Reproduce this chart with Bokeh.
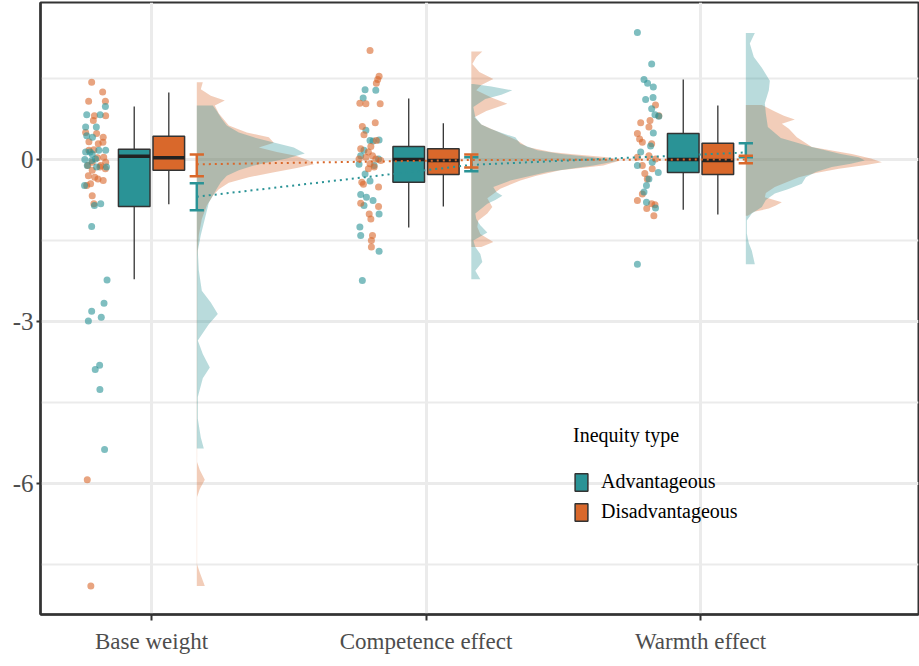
from bokeh.plotting import figure
from bokeh.models import Range1d, FixedTicker, Legend, LegendItem
from bokeh.embed import file_html
from bokeh.resources import INLINE

# ---------------- data ----------------
categories = ["Base weight", "Competence effect", "Warmth effect"]
cat_pos = [1, 2, 3]

# box stats: [lower whisker, q1, median, q3, upper whisker]
adv_box = [[-2.22, -0.87, 0.06, 0.19, 0.98],
           [-1.26, -0.42, 0.00, 0.24, 1.13],
           [-0.93, -0.24, 0.00, 0.48, 1.48]]
dis_box = [[-0.83, -0.20, 0.03, 0.43, 1.24],
           [-0.87, -0.28, -0.02, 0.20, 0.67],
           [-1.02, -0.28, -0.02, 0.30, 1.00]]

# means with confidence intervals
adv_mean = [-0.69, -0.10, 0.13]
adv_lo = [-0.94, -0.22, 0.04]
adv_hi = [-0.44, 0.04, 0.30]
dis_mean = [-0.09, -0.01, 0.00]
dis_lo = [-0.31, -0.15, -0.07]
dis_hi = [0.09, 0.09, 0.07]

# raw points (value, jitter)
bw_adv_y = [0.98, 0.83, 0.83, 0.6, 0.6, 0.44, 0.41, 0.17, 0.17, 0.14, 0.14, 0.1, 0.0, 0.01, -0.14, -0.11,
            -0.14, -0.48, -0.85, -0.82, -1.24, -0.02, -2.23, -2.66, -2.81, -2.99, -2.92, -3.81, -3.89,
            -4.26, -5.37]
bw_adv_j = [0.032, -0.036, 0.013, -0.04, -0.001, -0.036, -0.015, 0.008, 0.033, -0.04, -0.024, -0.016,
            -0.043, -0.004, 0.036, -0.034, 0.0, -0.044, -0.008, 0.015, -0.018, -0.018, 0.038, 0.027,
            -0.018, -0.03, 0.017, 0.011, -0.005, 0.012, 0.029]
bw_dis_y = [1.43, 1.25, 1.08, 1.08, 0.81, 0.81, 0.72, 0.5, 0.48, 0.41, 0.33, 0.29, 0.32, 0.17, 0.18, 0.03,
            -0.05, 0.04, -0.11, -0.14, -0.17, -0.2, -0.3, -0.33, -0.36, -0.39, -0.48, -0.45, -0.67, -0.82,
            -0.11, -0.05, -5.93, -7.9]
bw_dis_j = [-0.018, 0.022, -0.029, 0.032, 0.033, -0.008, -0.012, -0.04, 0.0, 0.024, -0.028, 0.006, 0.023,
            -0.028, -0.01, 0.003, -0.016, 0.026, -0.032, 0.012, 0.032, -0.016, -0.03, -0.007, 0.005, 0.024,
            -0.036, -0.022, -0.016, -0.01, 0.015, 0.033, -0.034, -0.021]
ce_adv_y = [1.29, 1.28, 1.14, 0.54, 0.35, 0.36, 0.34, 0.17, 0.07, 0.01, -0.09, -0.27, -0.4, -0.65, -0.7,
            -0.85, -0.76, -1.01, -1.25, -1.41, -1.7, -2.24, -0.11]
ce_adv_j = [-0.022, 0.017, -0.029, -0.019, -0.004, 0.029, 0.007, -0.026, -0.038, 0.027, -0.044, -0.022,
            -0.004, -0.038, -0.017, -0.026, 0.007, 0.029, -0.041, -0.038, 0.029, -0.032, 0.011]
ce_dis_y = [2.02, 1.54, 1.48, 1.41, 1.04, 1.03, 1.03, 0.68, 0.61, 0.46, 0.35, 0.24, 0.2, 0.14, 0.07, 0.01,
            0.04, 0.01, -0.08, -0.14, -0.17, -0.02, -0.42, -0.51, -0.81, -0.87, -1.01, -1.1, -1.41, -1.5,
            -1.62, -0.46]
ce_dis_j = [-0.004, 0.029, 0.024, 0.019, -0.041, -0.019, 0.033, 0.015, -0.032, -0.026, 0.019, -0.001,
            -0.038, -0.01, 0.005, -0.044, -0.019, 0.017, -0.004, 0.011, -0.01, 0.035, -0.034, 0.027,
            -0.038, 0.027, -0.007, -0.001, 0.005, 0.001, 0.001, -0.028]
we_adv_y = [2.35, 1.77, 1.48, 1.41, 1.34, 1.11, 1.15, 0.94, 0.83, 0.8, 0.49, 0.25, 0.14, -0.11, -0.24,
            -0.36, -0.48, -0.6, -0.79, -0.9, -1.94, -0.05]
we_adv_j = [-0.03, 0.022, -0.006, 0.007, 0.028, 0.0, 0.027, 0.022, 0.034, 0.048, 0.028, 0.018, -0.018,
            -0.03, 0.046, 0.012, 0.003, -0.006, 0.003, 0.036, -0.03, 0.024]
we_dis_y = [1.01, 0.81, 0.68, 0.72, 0.6, 0.48, 0.38, 0.32, 0.29, 0.04, 0.07, 0.01, -0.11, -0.17, -0.36,
            -0.64, -0.76, -0.82, -0.91, -1.04, -0.84, -0.26]
we_dis_j = [0.036, 0.048, -0.018, 0.016, 0.012, -0.03, -0.022, -0.012, 0.022, -0.03, 0.012, 0.036,
            -0.012, 0.024, 0.006, -0.012, -0.03, 0.022, 0.004, 0.03, 0.034, -0.003]

# half-violin outlines (level, density)
bw_adv_lv = [1.0, 0.9, 0.75, 0.63, 0.5, 0.41, 0.3, 0.22, 0.11, 0.02, -0.05, -0.11, -0.2, -0.3, -0.42, -0.54,
             -0.8, -1.1, -1.4, -1.69, -2.05, -2.43, -2.65, -2.86, -3.05, -3.35, -3.6, -3.85, -4.05, -4.4,
             -4.8, -5.15, -5.35]
bw_adv_d = [16, 20, 25, 30, 42, 57, 80, 97, 108, 90, 72, 57, 42, 30, 24, 20, 12, 8, 4, 1, 2, 5, 14, 21, 12,
            1, 6, 13, 6, 1, 1, 4, 7]
bw_dis_lv = [1.43, 1.3, 1.18, 1.09, 1.0, 0.85, 0.63, 0.5, 0.41, 0.31, 0.22, 0.14, 0.07, -0.02, -0.09,
             -0.16, -0.24, -0.33, -0.43, -0.55, -0.67, -0.85, -1.1, -1.4, -1.8, -5.6, -5.75, -5.93, -6.1,
             -6.25, -7.5, -7.65, -7.9]
bw_dis_d = [6, 4, 14, 28, 18, 22, 32, 50, 72, 77, 62, 80, 99, 112, 117, 100, 76, 52, 32, 22, 16, 10, 5, 2,
            0.5, 0.3, 3, 8, 3, 0.3, 0.3, 3, 8]
ce_adv_lv = [1.4, 1.35, 1.28, 1.2, 1.12, 0.97, 0.78, 0.65, 0.57, 0.48, 0.41, 0.29, 0.17, 0.1, 0.04, -0.03,
             -0.11, -0.23, -0.39, -0.51, -0.6, -0.67, -0.75, -0.82, -1.0, -1.1, -1.22, -1.35, -1.5, -1.62,
             -1.75, -1.9, -2.06, -2.22]
ce_adv_d = [2, 20, 41, 30, 14, 2, 4, 10, 19, 32, 44, 49, 66, 90, 122, 146, 122, 76, 39, 22, 25, 31, 24, 16,
            4, 5, 9, 16, 2, 4, 9, 11, 4, 9]
ce_dis_lv = [2.0, 1.9, 1.77, 1.62, 1.49, 1.38, 1.28, 1.15, 1.03, 0.9, 0.78, 0.65, 0.51, 0.35, 0.23, 0.14,
             0.1, 0.04, -0.02, -0.11, -0.2, -0.3, -0.39, -0.54, -0.72, -0.88, -1.0, -1.13, -1.25, -1.38,
             -1.53, -1.62]
ce_dis_d = [11, 5, 1, 8, 22, 10, 5, 20, 36, 15, 3, 10, 27, 46, 56, 80, 99, 136, 149, 132, 89, 65, 49, 29,
            16, 21, 16, 7, 6, 9, 22, 10]
we_adv_lv = [2.34, 2.15, 1.9, 1.7, 1.46, 1.28, 1.04, 0.85, 0.6, 0.4, 0.23, 0.1, 0.04, -0.02, -0.08, -0.14,
             -0.23, -0.33, -0.45, -0.55, -0.63, -0.75, -0.88, -1.0, -1.13, -1.37, -1.55, -1.69, -1.94]
we_adv_d = [9, 4, 8, 16, 24, 23, 19, 20, 22, 35, 66, 95, 113, 119, 105, 86, 70, 60, 56, 42, 29, 20, 16, 6,
            1, 1, 3, 6, 9]
we_dis_lv = [1.01, 0.9, 0.81, 0.74, 0.66, 0.57, 0.41, 0.23, 0.1, 0.02, -0.05, -0.1, -0.17, -0.25, -0.33,
             -0.51, -0.62, -0.7, -0.79, -0.85, -0.91, -0.97, -1.04]
we_dis_d = [16, 28, 38, 49, 36, 43, 51, 66, 106, 125, 136, 120, 93, 70, 53, 29, 20, 19, 36, 30, 23, 8, 2]

y_major = [-6, -3, 0]
y_minor = [-7.5, -4.5, -1.5, 1.5]

# ---------------- style ----------------
TEAL = "#2a9396"
ORANGE = "#d9682b"
FONT = "Liberation Serif"
DENS_SCALE = 1 / 274.5
CLOUD_OFF = -0.2
BOX_OFF = 0.063
BOX_W = 0.115
EB_OFF = 0.165
CAP_W = 0.052
VIO_OFF = 0.165

p = figure(width=919, height=666, output_backend="svg", toolbar_location=None,
           x_range=Range1d(0.5956, 3.794), y_range=Range1d(-8.426, 2.907),
           min_border_left=40, min_border_right=1, min_border_top=2, min_border_bottom=52)
p.background_fill_color = "white"
p.outline_line_color = "#333333"
p.outline_line_width = 2

# grids
p.xgrid.grid_line_color = "#ebebeb"
p.xgrid.grid_line_width = 3
p.ygrid.grid_line_color = "#ebebeb"
p.ygrid.grid_line_width = 3
p.ygrid.minor_grid_line_color = "#ebebeb"
p.ygrid.minor_grid_line_width = 2

# axes
p.xaxis.ticker = FixedTicker(ticks=cat_pos)
p.xaxis.major_label_overrides = {c: l for c, l in zip(cat_pos, categories)}
p.yaxis.ticker = FixedTicker(ticks=y_major, minor_ticks=y_minor)
p.yaxis.major_label_overrides = {v: str(v) for v in y_major}
for ax in (p.xaxis[0], p.yaxis[0]):
    ax.axis_line_color = "#333333"
    ax.axis_line_width = 2.5
    ax.major_tick_line_color = "#333333"
    ax.major_tick_line_width = 2
    ax.major_tick_in = 0
    ax.minor_tick_line_color = None
    ax.major_label_text_font = FONT
    ax.major_label_text_color = "#4d4d4d"
p.xaxis.major_label_text_font_size = "23px"
p.yaxis.major_label_text_font_size = "25px"
p.xaxis.major_tick_out = 6
p.xaxis.major_label_standoff = 8
p.yaxis.major_tick_out = 4
p.yaxis.major_label_standoff = 3

violins = [
    (bw_dis_lv, bw_dis_d, ORANGE, 0), (bw_adv_lv, bw_adv_d, TEAL, 0),
    (ce_dis_lv, ce_dis_d, ORANGE, 1), (ce_adv_lv, ce_adv_d, TEAL, 1),
    (we_dis_lv, we_dis_d, ORANGE, 2), (we_adv_lv, we_adv_d, TEAL, 2),
]
for lv, d, col, ci in violins:
    base = cat_pos[ci] + VIO_OFF
    xs = [base] + [base + v * DENS_SCALE for v in d] + [base]
    ys = [lv[0]] + lv + [lv[-1]]
    p.patch(xs, ys, fill_color=col, fill_alpha=0.33, line_color=None)

pts = [
    (bw_dis_y, bw_dis_j, ORANGE, 0), (bw_adv_y, bw_adv_j, TEAL, 0),
    (ce_adv_y, ce_adv_j, TEAL, 1), (ce_dis_y, ce_dis_j, ORANGE, 1),
    (we_dis_y, we_dis_j, ORANGE, 2), (we_adv_y, we_adv_j, TEAL, 2),
]
for ys, js, col, ci in pts:
    xs = [cat_pos[ci] + CLOUD_OFF + j for j in js]
    p.scatter(xs, ys, size=7, fill_color=col, fill_alpha=0.6, line_color=None)

box_renderers = {}
for stats, col, off, key in [(adv_box, TEAL, -BOX_OFF, "adv"), (dis_box, ORANGE, BOX_OFF, "dis")]:
    cx = [c + off for c in cat_pos]
    lw = [s[0] for s in stats]
    q1 = [s[1] for s in stats]
    med = [s[2] for s in stats]
    q3 = [s[3] for s in stats]
    up = [s[4] for s in stats]
    p.segment(cx, q3, cx, up, line_color="#333333", line_width=1.3)
    p.segment(cx, lw, cx, q1, line_color="#333333", line_width=1.3)
    r = p.quad(left=[c - BOX_W / 2 for c in cx], right=[c + BOX_W / 2 for c in cx], top=q3, bottom=q1,
               fill_color=col, line_color="#333333", line_width=1.5)
    box_renderers[key] = r
    p.segment([c - BOX_W / 2 for c in cx], med, [c + BOX_W / 2 for c in cx], med,
              line_color="#222222", line_width=3.5)

for mean, lo, hi, col in [(adv_mean, adv_lo, adv_hi, TEAL), (dis_mean, dis_lo, dis_hi, ORANGE)]:
    ex = [c + EB_OFF for c in cat_pos]
    p.segment(ex, lo, ex, hi, line_color=col, line_width=2.5)
    p.segment([x - CAP_W / 2 for x in ex], lo, [x + CAP_W / 2 for x in ex], lo, line_color=col, line_width=2.5)
    p.segment([x - CAP_W / 2 for x in ex], hi, [x + CAP_W / 2 for x in ex], hi, line_color=col, line_width=2.5)
    p.line(ex, mean, line_color=col, line_width=2, line_dash="2 4")

legend = Legend(items=[LegendItem(label="Advantageous", renderers=[box_renderers["adv"]]),
                       LegendItem(label="Disadvantageous", renderers=[box_renderers["dis"]])],
                title="Inequity type", location=(533, 91))
legend.border_line_color = None
legend.background_fill_alpha = 0
legend.padding = 0
legend.margin = 0
legend.spacing = 7
legend.glyph_height = 22
legend.glyph_width = 16
legend.label_height = 22
legend.label_standoff = 12
legend.title_standoff = 23
legend.title_text_font = FONT
legend.title_text_font_size = "20px"
legend.title_text_font_style = "normal"
legend.title_text_color = "black"
legend.label_text_font = FONT
legend.label_text_font_size = "20px"
legend.label_text_color = "black"
p.add_layout(legend)

open("out.html", "w").write(file_html(p, INLINE))
